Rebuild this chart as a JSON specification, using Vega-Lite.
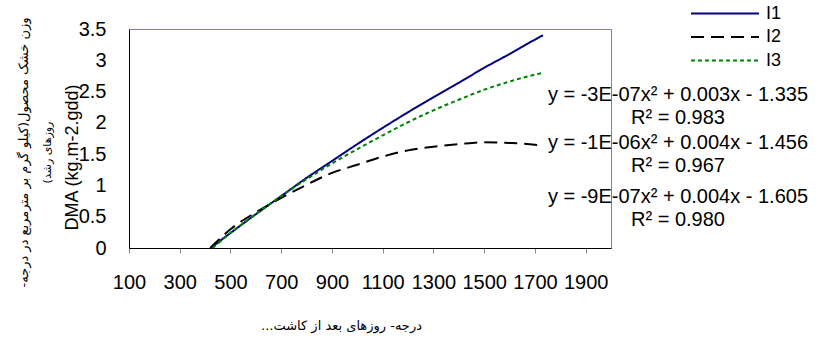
{
  "$schema": "https://vega.github.io/schema/vega-lite/v6.json",
  "width": 482,
  "height": 219,
  "autosize": {"type": "none"},
  "padding": {"left": 129, "top": 29, "right": 208, "bottom": 90},
  "background": "white",
  "title": {
    "text": "وزن خشک محصول(کیلو گرم بر مترمربع در درجه-\u200F",
    "subtitle": "روزهای رشد)\u200F",
    "orient": "left",
    "anchor": "middle",
    "font": "DejaVu Sans",
    "fontSize": 13,
    "fontWeight": "normal",
    "color": "#000000",
    "subtitleFont": "DejaVu Sans",
    "subtitleFontSize": 11,
    "subtitleColor": "#000000",
    "subtitlePadding": 11,
    "offset": 10,
    "dx": -14
  },
  "config": {
    "view": {"stroke": "#7b7bc0", "strokeWidth": 1},
    "axis": {"grid": false, "labelOverlap": false}
  },
  "datasets": {
    "series": [
      {"series": "I1", "gdd": 422, "dma": 0},
      {"series": "I1", "gdd": 500, "dma": 0.24},
      {"series": "I1", "gdd": 600, "dma": 0.54},
      {"series": "I1", "gdd": 700, "dma": 0.83},
      {"series": "I1", "gdd": 800, "dma": 1.12},
      {"series": "I1", "gdd": 900, "dma": 1.39},
      {"series": "I1", "gdd": 1000, "dma": 1.66},
      {"series": "I1", "gdd": 1100, "dma": 1.92},
      {"series": "I1", "gdd": 1200, "dma": 2.17},
      {"series": "I1", "gdd": 1300, "dma": 2.41},
      {"series": "I1", "gdd": 1400, "dma": 2.64},
      {"series": "I1", "gdd": 1500, "dma": 2.88},
      {"series": "I1", "gdd": 1600, "dma": 3.1},
      {"series": "I1", "gdd": 1700, "dma": 3.33},
      {"series": "I1", "gdd": 1732, "dma": 3.4},
      {"series": "I2", "gdd": 420, "dma": 0},
      {"series": "I2", "gdd": 500, "dma": 0.3},
      {"series": "I2", "gdd": 600, "dma": 0.57},
      {"series": "I2", "gdd": 700, "dma": 0.8},
      {"series": "I2", "gdd": 800, "dma": 1.01},
      {"series": "I2", "gdd": 900, "dma": 1.2},
      {"series": "I2", "gdd": 1000, "dma": 1.33},
      {"series": "I2", "gdd": 1100, "dma": 1.46},
      {"series": "I2", "gdd": 1200, "dma": 1.56},
      {"series": "I2", "gdd": 1300, "dma": 1.62},
      {"series": "I2", "gdd": 1400, "dma": 1.66},
      {"series": "I2", "gdd": 1500, "dma": 1.69},
      {"series": "I2", "gdd": 1600, "dma": 1.68},
      {"series": "I2", "gdd": 1700, "dma": 1.65},
      {"series": "I2", "gdd": 1732, "dma": 1.63},
      {"series": "I3", "gdd": 430, "dma": 0},
      {"series": "I3", "gdd": 500, "dma": 0.24},
      {"series": "I3", "gdd": 600, "dma": 0.54},
      {"series": "I3", "gdd": 700, "dma": 0.83},
      {"series": "I3", "gdd": 800, "dma": 1.1},
      {"series": "I3", "gdd": 900, "dma": 1.35},
      {"series": "I3", "gdd": 1000, "dma": 1.58},
      {"series": "I3", "gdd": 1100, "dma": 1.8},
      {"series": "I3", "gdd": 1200, "dma": 2.01},
      {"series": "I3", "gdd": 1300, "dma": 2.2},
      {"series": "I3", "gdd": 1400, "dma": 2.37},
      {"series": "I3", "gdd": 1500, "dma": 2.53},
      {"series": "I3", "gdd": 1600, "dma": 2.66},
      {"series": "I3", "gdd": 1700, "dma": 2.77},
      {"series": "I3", "gdd": 1733, "dma": 2.8}
    ],
    "notes": [
      {"gdd": 2264, "dma": 2.445, "label": "y = -3E-07x² + 0.003x - 1.335"},
      {"gdd": 2264, "dma": 2.077, "label": "R² = 0.983"},
      {"gdd": 2264, "dma": 1.678, "label": "y = -1E-06x² + 0.004x - 1.456"},
      {"gdd": 2264, "dma": 1.31, "label": "R² = 0.967"},
      {"gdd": 2264, "dma": 0.815, "label": "y = -9E-07x² + 0.004x - 1.605"},
      {"gdd": 2264, "dma": 0.447, "label": "R² = 0.980"}
    ]
  },
  "encoding": {
    "x": {
      "field": "gdd",
      "type": "quantitative",
      "scale": {"domain": [100, 2000], "nice": false, "zero": false},
      "axis": {
        "values": [100, 300, 500, 700, 900, 1100, 1300, 1500, 1700, 1900],
        "format": "d",
        "labelFlush": false,
        "labelOverlap": false,
        "domainColor": "#000000",
        "domainWidth": 1,
        "tickColor": "#888888",
        "tickSize": 5,
        "labelFont": "Liberation Sans",
        "labelFontSize": 20,
        "labelColor": "#000000",
        "labelPadding": 19,
        "title": "درجه- روزهای بعد از کاشت...\u200F",
        "titleFont": "DejaVu Sans",
        "titleFontSize": 13,
        "titleFontWeight": "normal",
        "titleColor": "#000000",
        "titleX": 212,
        "titleY": 77,
        "titleBaseline": "middle",
        "titleAnchor": "middle"
      }
    },
    "y": {
      "field": "dma",
      "type": "quantitative",
      "scale": {"domain": [0, 3.5], "nice": false},
      "axis": {
        "values": [0, 0.5, 1, 1.5, 2, 2.5, 3, 3.5],
        "format": "~g",
        "labelOverlap": false,
        "labelFlush": false,
        "ticks": false,
        "domainColor": "#000000",
        "domainWidth": 1,
        "labelFont": "Liberation Sans",
        "labelFontSize": 20,
        "labelColor": "#000000",
        "labelPadding": 23,
        "title": "DMA (kg.m-2.gdd)",
        "titleFont": "Liberation Sans",
        "titleFontSize": 18,
        "titleFontWeight": "normal",
        "titleColor": "#000000",
        "titleX": -57,
        "titleY": 128,
        "titleBaseline": "middle",
        "titleAlign": "center"
      }
    }
  },
  "layer": [
    {
      "data": {"name": "series"},
      "mark": {"type": "line", "strokeWidth": 2, "interpolate": "monotone"},
      "encoding": {
        "color": {
          "field": "series",
          "type": "nominal",
          "scale": {"domain": ["I1", "I2", "I3"], "range": ["#000080", "#000000", "#008000"]},
          "legend": {
            "title": null,
            "orient": "none",
            "legendX": 561,
            "legendY": -24,
            "symbolType": "stroke",
            "symbolSize": 4624,
            "symbolStrokeWidth": 2,
            "clipHeight": 17,
            "labelFont": "Liberation Sans",
            "labelFontSize": 18,
            "labelColor": "#000000",
            "labelOffset": 6,
            "rowPadding": 4.5
          }
        },
        "strokeDash": {
          "field": "series",
          "type": "nominal",
          "scale": {"domain": ["I1", "I2", "I3"], "range": [[1, 0], [13, 7], [4, 3]]},
          "legend": {
            "title": null,
            "orient": "none",
            "legendX": 561,
            "legendY": -24,
            "symbolType": "stroke",
            "symbolSize": 4624,
            "symbolStrokeWidth": 2,
            "clipHeight": 17,
            "labelFont": "Liberation Sans",
            "labelFontSize": 18,
            "labelColor": "#000000",
            "labelOffset": 6,
            "rowPadding": 4.5
          }
        }
      }
    },
    {
      "data": {"name": "notes"},
      "mark": {"type": "text", "font": "Liberation Sans", "fontSize": 20, "color": "#000000", "align": "center", "baseline": "middle", "clip": false},
      "encoding": {
        "text": {"field": "label", "type": "nominal"}
      }
    }
  ]
}
